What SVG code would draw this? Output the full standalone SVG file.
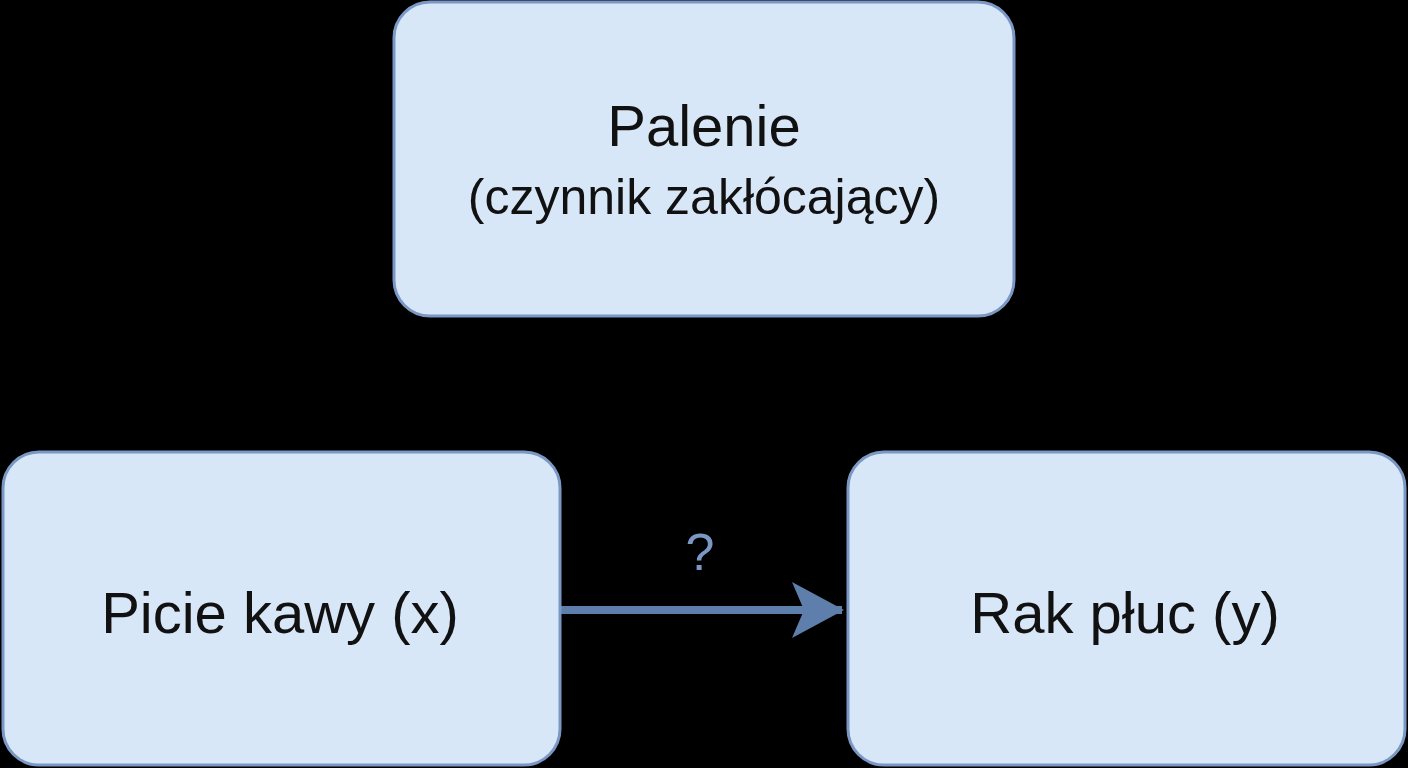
<svg xmlns="http://www.w3.org/2000/svg" width="1408" height="768" viewBox="0 0 1408 768">
<style>
.box{fill:#d8e7f8;stroke:#7b98c4;stroke-width:3}
.t{font-family:"Liberation Sans",Arial,sans-serif;fill:#111;text-anchor:middle}
</style>
<defs>
<marker id="ah" markerUnits="userSpaceOnUse" markerWidth="54" markerHeight="56" refX="50" refY="28" orient="auto">
<path d="M0,0 L52,28 L0,56 L12,28 Z" fill="#5e7fab"/>
</marker>
</defs>
<rect width="1408" height="768" fill="#000"/>
<g id="connectors">
<line x1="561" y1="610" x2="842" y2="610" stroke="#5e7fab" stroke-width="8" marker-end="url(#ah)"/>
<text x="700" y="570" class="t" style="fill:#7b98c4;font-size:52px">?</text>
</g>
<g id="palenie">
<rect class="box" x="394" y="2" width="620" height="314" rx="36"/>
<text x="704" y="146" class="t" font-size="58">Palenie</text>
<text x="704" y="214" class="t" font-size="50">(czynnik zakłócający)</text>
</g>
<g id="kawa">
<rect class="box" x="3" y="452" width="557" height="313" rx="36"/>
<text x="280" y="633" class="t" font-size="58">Picie kawy (x)</text>
</g>
<g id="rak">
<rect class="box" x="848" y="452" width="557" height="313" rx="36"/>
<text x="1125" y="633" class="t" font-size="58">Rak płuc (y)</text>
</g>
</svg>
